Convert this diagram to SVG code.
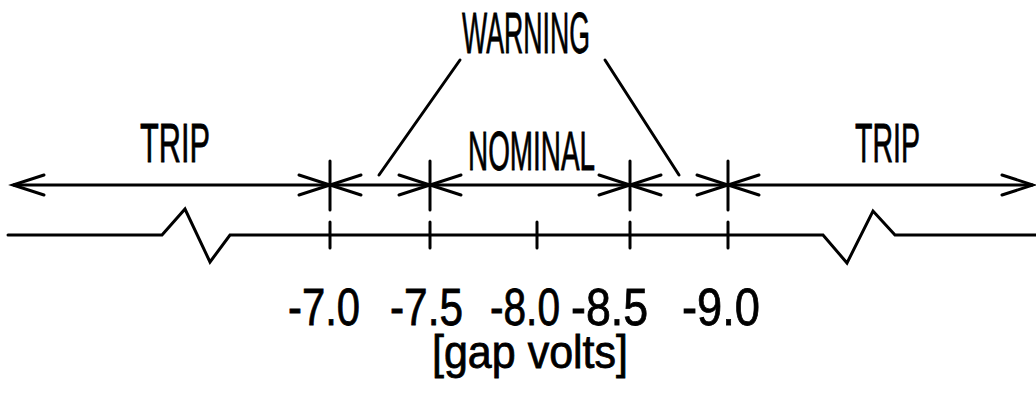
<svg xmlns="http://www.w3.org/2000/svg" width="1036" height="394" viewBox="0 0 1036 394">
  <style>
    .ln { stroke: #000; stroke-width: 3; fill: none; stroke-linecap: round; stroke-linejoin: miter; }
    .dim { stroke: #000; stroke-width: 3; fill: none; marker-start: url(#head); marker-end: url(#head); }
    .lbl { font-family: "Liberation Sans", Arial, sans-serif; fill: #000; stroke: #000; stroke-width: 0.8; }
  </style>
  <defs>
    <marker id="head" markerUnits="userSpaceOnUse" markerWidth="40" markerHeight="26" viewBox="0 0 40 26" refX="34" refY="13" orient="auto-start-reverse">
      <path d="M 3,3 L 34,13 L 3,23" fill="none" stroke="#000" stroke-width="3" stroke-linecap="round"/>
    </marker>
  </defs>
  <rect width="1036" height="394" fill="#fff"/>

  <g id="connectors">
    <line class="dim" x1="13" y1="185" x2="330" y2="185"/>
    <line class="dim" x1="330" y1="185" x2="430" y2="185"/>
    <line class="dim" x1="430" y1="185" x2="630" y2="185"/>
    <line class="dim" x1="630" y1="185" x2="728" y2="185"/>
    <line class="dim" x1="728" y1="185" x2="1033" y2="185"/>
    <g class="ln">
      <line x1="330" y1="161" x2="330" y2="210"/>
      <line x1="430" y1="161" x2="430" y2="210"/>
      <line x1="630" y1="161" x2="630" y2="210"/>
      <line x1="728" y1="161" x2="728" y2="210"/>
      <line x1="330" y1="222" x2="330" y2="248"/>
      <line x1="430" y1="222" x2="430" y2="248"/>
      <line x1="537" y1="222" x2="537" y2="248"/>
      <line x1="630" y1="222" x2="630" y2="248"/>
      <line x1="728" y1="222" x2="728" y2="248"/>
      <path d="M 8,235 H 162 L 185,209 L 210,262 L 230,235 H 823 L 847,263 L 873,211 L 895,235 H 1036"/>
      <line x1="460" y1="60" x2="379" y2="175"/>
      <line x1="605" y1="60" x2="679" y2="175"/>
    </g>
  </g>

  <g id="trip-left">
    <text class="lbl" x="140" y="162" font-size="56" textLength="70" lengthAdjust="spacingAndGlyphs">TRIP</text>
  </g>
  <g id="warning">
    <text class="lbl" x="462" y="53" font-size="57" textLength="128" lengthAdjust="spacingAndGlyphs">WARNING</text>
  </g>
  <g id="nominal">
    <text class="lbl" x="468" y="170" font-size="56" textLength="127" lengthAdjust="spacingAndGlyphs">NOMINAL</text>
  </g>
  <g id="trip-right">
    <text class="lbl" x="855" y="162" font-size="56" textLength="65" lengthAdjust="spacingAndGlyphs">TRIP</text>
  </g>
  <g id="scale-labels">
    <text class="lbl" x="288" y="325" font-size="52" textLength="72" lengthAdjust="spacingAndGlyphs">-7.0</text>
    <text class="lbl" x="390" y="325" font-size="52" textLength="73" lengthAdjust="spacingAndGlyphs">-7.5</text>
    <text class="lbl" x="490" y="325" font-size="52" textLength="70" lengthAdjust="spacingAndGlyphs">-8.0</text>
    <text class="lbl" x="571" y="325" font-size="52" textLength="77" lengthAdjust="spacingAndGlyphs">-8.5</text>
    <text class="lbl" x="682" y="325" font-size="52" textLength="78" lengthAdjust="spacingAndGlyphs">-9.0</text>
    <text class="lbl" x="432" y="368" font-size="46" textLength="196" lengthAdjust="spacingAndGlyphs">[gap volts]</text>
  </g>
</svg>
